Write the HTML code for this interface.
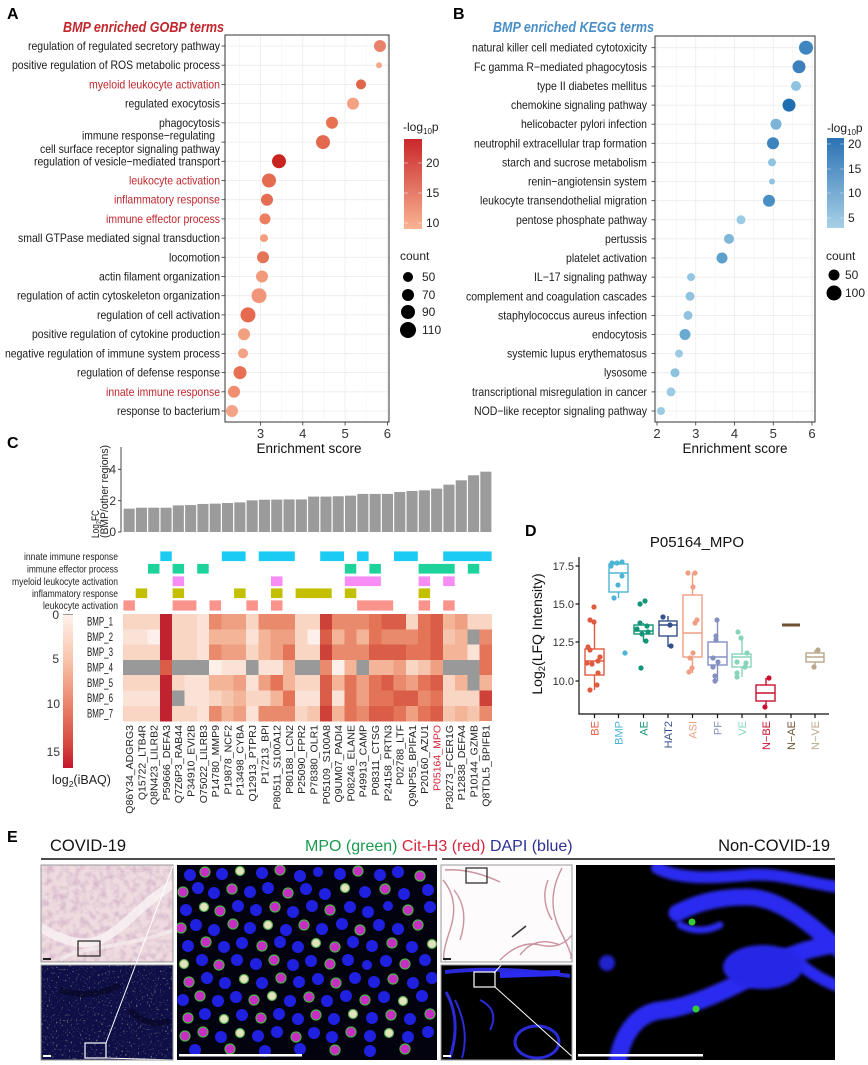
<!DOCTYPE html>
<html><head><meta charset="utf-8"><style>
html,body{margin:0;padding:0;background:#fff}
svg{display:block;font-family:"Liberation Sans",Arial,sans-serif}
.pl{font-weight:bold;font-size:16px;fill:#000}
.lab{font-size:12px;fill:#1a1a1a}
.red{fill:#c1272d}
.tk{font-size:13px;fill:#333}
.gr{stroke:#ebebeb;stroke-width:0.8}
.gm{stroke:#f4f4f4;stroke-width:0.6}
.a{fill:#fdf0ea}.b{fill:#fbe2d6}.c{fill:#f9d5c3}.d{fill:#f6c5ae}.e{fill:#f3b498}.f{fill:#efa083}.g{fill:#ea8a6c}.h{fill:#e37458}.i{fill:#d95d47}.j{fill:#cd4139}.k{fill:#c1222f}.z{fill:#999}
.cb{fill:#2020e0}.cm{fill:#c92ec4;stroke:#4fae4f;stroke-width:1.2}.cw{fill:#e4e4bc;stroke:#5a5;stroke-width:1.2}
</style></head><body>
<svg width="868" height="1065" viewBox="0 0 868 1065" xmlns="http://www.w3.org/2000/svg">
<defs>
<linearGradient id="gA" x1="0" y1="0" x2="0" y2="1"><stop offset="0" stop-color="#c9282a"/><stop offset="1" stop-color="#f9b493"/></linearGradient>
<linearGradient id="gB" x1="0" y1="0" x2="0" y2="1"><stop offset="0" stop-color="#2b72b4"/><stop offset="1" stop-color="#a7d0e6"/></linearGradient>
<linearGradient id="gC" x1="0" y1="0" x2="0" y2="1"><stop offset="0" stop-color="#fff3ee"/><stop offset="0.3" stop-color="#f8c4ab"/><stop offset="0.6" stop-color="#ea8268"/><stop offset="0.85" stop-color="#d5473e"/><stop offset="1" stop-color="#c4162c"/></linearGradient>
<filter id="tex" x="0" y="0" width="1" height="1"><feTurbulence type="fractalNoise" baseFrequency="0.15" numOctaves="2" seed="5"/><feColorMatrix type="matrix" values="0 0 0 0 0.62  0 0 0 0 0.42  0 0 0 0 0.55  1.8 0 0 0 -0.75"/></filter>
<filter id="spk" x="0" y="0" width="1" height="1"><feTurbulence type="fractalNoise" baseFrequency="0.55" numOctaves="1" seed="9"/><feColorMatrix type="matrix" values="0 0 0 0 0.85  0 0 0 0 0.9  0 0 0 0 0.5  7 0 0 0 -4.3"/></filter>
<filter id="bl"><feGaussianBlur stdDeviation="1.5"/></filter>
<clipPath id="c1"><rect x="177" y="865" width="260" height="195"/></clipPath>
<clipPath id="c2"><rect x="576" y="865" width="259" height="195"/></clipPath>
<clipPath id="c3"><rect x="441" y="965" width="131" height="95"/></clipPath>
</defs>

<!-- ============ PANEL A ============ -->
<text x="7" y="19" class="pl">A</text>
<text x="63" y="32" font-size="14.5" font-weight="bold" font-style="italic" fill="#c1272d" textLength="161" lengthAdjust="spacingAndGlyphs">BMP enriched GOBP terms</text>
<rect x="225" y="35" width="164" height="387" fill="#fff"/>
<g>
<line class="gm" x1="239.4" y1="35" x2="239.4" y2="422"/><line class="gm" x1="281.7" y1="35" x2="281.7" y2="422"/><line class="gm" x1="323.9" y1="35" x2="323.9" y2="422"/><line class="gm" x1="366.2" y1="35" x2="366.2" y2="422"/>
<line class="gr" x1="260.5" y1="35" x2="260.5" y2="422"/><line class="gr" x1="302.8" y1="35" x2="302.8" y2="422"/><line class="gr" x1="345.1" y1="35" x2="345.1" y2="422"/><line class="gr" x1="387.4" y1="35" x2="387.4" y2="422"/>
</g>
<g class="gr">
<line x1="225" x2="389" y1="46" y2="46"/><line x1="225" x2="389" y1="65.2" y2="65.2"/><line x1="225" x2="389" y1="84.4" y2="84.4"/><line x1="225" x2="389" y1="103.6" y2="103.6"/><line x1="225" x2="389" y1="122.8" y2="122.8"/><line x1="225" x2="389" y1="142.1" y2="142.1"/><line x1="225" x2="389" y1="161.3" y2="161.3"/><line x1="225" x2="389" y1="180.5" y2="180.5"/><line x1="225" x2="389" y1="199.7" y2="199.7"/><line x1="225" x2="389" y1="218.9" y2="218.9"/><line x1="225" x2="389" y1="238.1" y2="238.1"/><line x1="225" x2="389" y1="257.3" y2="257.3"/><line x1="225" x2="389" y1="276.5" y2="276.5"/><line x1="225" x2="389" y1="295.7" y2="295.7"/><line x1="225" x2="389" y1="314.9" y2="314.9"/><line x1="225" x2="389" y1="334.2" y2="334.2"/><line x1="225" x2="389" y1="353.4" y2="353.4"/><line x1="225" x2="389" y1="372.6" y2="372.6"/><line x1="225" x2="389" y1="391.8" y2="391.8"/><line x1="225" x2="389" y1="411" y2="411"/>
</g>
<g>
<circle cx="380" cy="46" r="6" fill="#e8826a"/><circle cx="379" cy="65.2" r="3" fill="#f5a88a"/><circle cx="361" cy="84.4" r="5" fill="#e0654a"/><circle cx="353" cy="103.6" r="6" fill="#f4a283"/><circle cx="332" cy="122.8" r="6" fill="#e8714f"/><circle cx="323" cy="142.1" r="7" fill="#e2684e"/><circle cx="279" cy="161.3" r="7" fill="#c82420"/><circle cx="269" cy="180.5" r="7" fill="#e46b4f"/><circle cx="267" cy="199.7" r="6" fill="#e46c51"/><circle cx="265" cy="218.9" r="5.5" fill="#eb7f60"/><circle cx="264" cy="238.1" r="4" fill="#f39c7e"/><circle cx="263" cy="257.3" r="6" fill="#e57457"/><circle cx="262" cy="276.5" r="6" fill="#f19b7c"/><circle cx="259" cy="295.7" r="7.5" fill="#f2967b"/><circle cx="248" cy="314.9" r="7.5" fill="#e56a50"/><circle cx="244" cy="334.2" r="6" fill="#f3a081"/><circle cx="243" cy="353.4" r="5" fill="#f4a285"/><circle cx="240" cy="372.6" r="6.5" fill="#e76f53"/><circle cx="234" cy="391.8" r="6" fill="#ef8e70"/><circle cx="232" cy="411" r="6" fill="#f4a386"/>
</g>
<rect x="225" y="35" width="164" height="387" fill="none" stroke="#333" stroke-width="1"/>
<g stroke="#333" stroke-width="0.8">
<line x1="221.5" x2="225" y1="46" y2="46"/><line x1="221.5" x2="225" y1="65.2" y2="65.2"/><line x1="221.5" x2="225" y1="84.4" y2="84.4"/><line x1="221.5" x2="225" y1="103.6" y2="103.6"/><line x1="221.5" x2="225" y1="122.8" y2="122.8"/><line x1="221.5" x2="225" y1="142.1" y2="142.1"/><line x1="221.5" x2="225" y1="161.3" y2="161.3"/><line x1="221.5" x2="225" y1="180.5" y2="180.5"/><line x1="221.5" x2="225" y1="199.7" y2="199.7"/><line x1="221.5" x2="225" y1="218.9" y2="218.9"/><line x1="221.5" x2="225" y1="238.1" y2="238.1"/><line x1="221.5" x2="225" y1="257.3" y2="257.3"/><line x1="221.5" x2="225" y1="276.5" y2="276.5"/><line x1="221.5" x2="225" y1="295.7" y2="295.7"/><line x1="221.5" x2="225" y1="314.9" y2="314.9"/><line x1="221.5" x2="225" y1="334.2" y2="334.2"/><line x1="221.5" x2="225" y1="353.4" y2="353.4"/><line x1="221.5" x2="225" y1="372.6" y2="372.6"/><line x1="221.5" x2="225" y1="391.8" y2="391.8"/><line x1="221.5" x2="225" y1="411" y2="411"/>
<line x1="260.5" x2="260.5" y1="422" y2="425.5"/><line x1="302.8" x2="302.8" y1="422" y2="425.5"/><line x1="345.1" x2="345.1" y1="422" y2="425.5"/><line x1="387.4" x2="387.4" y1="422" y2="425.5"/>
</g>
<g class="lab">
<text x="28" y="50" textLength="192" lengthAdjust="spacingAndGlyphs">regulation of regulated secretory pathway</text>
<text x="12" y="69.2" textLength="208" lengthAdjust="spacingAndGlyphs">positive regulation of ROS metabolic process</text>
<text x="89" y="88.4" textLength="131" lengthAdjust="spacingAndGlyphs" class="red">myeloid leukocyte activation</text>
<text x="125" y="107.6" textLength="95" lengthAdjust="spacingAndGlyphs">regulated exocytosis</text>
<text x="159" y="126.8" textLength="61" lengthAdjust="spacingAndGlyphs">phagocytosis</text>
<text x="82" y="139.7" textLength="133" lengthAdjust="spacingAndGlyphs">immune response−regulating</text>
<text x="40" y="153" textLength="180" lengthAdjust="spacingAndGlyphs">cell surface receptor signaling pathway</text>
<text x="34" y="165.3" textLength="186" lengthAdjust="spacingAndGlyphs">regulation of vesicle−mediated transport</text>
<text x="129" y="184.5" textLength="91" lengthAdjust="spacingAndGlyphs" class="red">leukocyte activation</text>
<text x="114" y="203.7" textLength="106" lengthAdjust="spacingAndGlyphs" class="red">inflammatory response</text>
<text x="106" y="222.9" textLength="114" lengthAdjust="spacingAndGlyphs" class="red">immune effector process</text>
<text x="18" y="242.1" textLength="202" lengthAdjust="spacingAndGlyphs">small GTPase mediated signal transduction</text>
<text x="169" y="261.3" textLength="51" lengthAdjust="spacingAndGlyphs">locomotion</text>
<text x="99" y="280.5" textLength="121" lengthAdjust="spacingAndGlyphs">actin filament organization</text>
<text x="17" y="299.7" textLength="203" lengthAdjust="spacingAndGlyphs">regulation of actin cytoskeleton organization</text>
<text x="97" y="318.9" textLength="123" lengthAdjust="spacingAndGlyphs">regulation of cell activation</text>
<text x="32" y="338.2" textLength="188" lengthAdjust="spacingAndGlyphs">positive regulation of cytokine production</text>
<text x="5" y="357.4" textLength="215" lengthAdjust="spacingAndGlyphs">negative regulation of immune system process</text>
<text x="77" y="376.6" textLength="143" lengthAdjust="spacingAndGlyphs">regulation of defense response</text>
<text x="106" y="395.8" textLength="114" lengthAdjust="spacingAndGlyphs" class="red">innate immune response</text>
<text x="117" y="415" textLength="103" lengthAdjust="spacingAndGlyphs">response to bacterium</text>
</g>
<g class="tk" text-anchor="middle">
<text x="260.5" y="438">3</text><text x="302.8" y="438">4</text><text x="345.1" y="438">5</text><text x="387.4" y="438">6</text>
<text x="309" y="453" font-size="13.5" fill="#111">Enrichment score</text>
</g>
<text x="403" y="131" font-size="12" fill="#222">-log<tspan font-size="8" dy="3">10</tspan><tspan dy="-3">p</tspan></text>
<rect x="404" y="139" width="18" height="90" fill="url(#gA)"/>
<g stroke="#fff" stroke-opacity="0.6" stroke-width="0.8"><line x1="404" x2="408" y1="163" y2="163"/><line x1="418" x2="422" y1="163" y2="163"/><line x1="404" x2="408" y1="193" y2="193"/><line x1="418" x2="422" y1="193" y2="193"/><line x1="404" x2="408" y1="223" y2="223"/><line x1="418" x2="422" y1="223" y2="223"/></g>
<g font-size="12" fill="#222"><text x="426" y="167">20</text><text x="426" y="197">15</text><text x="426" y="227">10</text>
<text x="400" y="260">count</text>
<circle cx="408" cy="277" r="5" fill="#000"/><text x="422" y="281">50</text>
<circle cx="408" cy="295" r="6" fill="#000"/><text x="422" y="299">70</text>
<circle cx="408" cy="312" r="7" fill="#000"/><text x="422" y="316">90</text>
<circle cx="408" cy="330" r="8" fill="#000"/><text x="422" y="334">110</text></g>

<!-- ============ PANEL B ============ -->
<text x="453" y="19" class="pl">B</text>
<text x="493" y="32" font-size="14.5" font-weight="bold" font-style="italic" fill="#4a8ec7" textLength="161" lengthAdjust="spacingAndGlyphs">BMP enriched KEGG terms</text>
<g>
<line class="gm" x1="676.4" y1="36" x2="676.4" y2="422"/><line class="gm" x1="715.1" y1="36" x2="715.1" y2="422"/><line class="gm" x1="753.9" y1="36" x2="753.9" y2="422"/><line class="gm" x1="792.6" y1="36" x2="792.6" y2="422"/>
<line class="gr" x1="657" y1="36" x2="657" y2="422"/><line class="gr" x1="695.75" y1="36" x2="695.75" y2="422"/><line class="gr" x1="734.5" y1="36" x2="734.5" y2="422"/><line class="gr" x1="773.25" y1="36" x2="773.25" y2="422"/><line class="gr" x1="812" y1="36" x2="812" y2="422"/>
</g>
<g class="gr">
<line x1="655" x2="815" y1="47.7" y2="47.7"/><line x1="655" x2="815" y1="66.8" y2="66.8"/><line x1="655" x2="815" y1="86" y2="86"/><line x1="655" x2="815" y1="105.1" y2="105.1"/><line x1="655" x2="815" y1="124.2" y2="124.2"/><line x1="655" x2="815" y1="143.3" y2="143.3"/><line x1="655" x2="815" y1="162.4" y2="162.4"/><line x1="655" x2="815" y1="181.5" y2="181.5"/><line x1="655" x2="815" y1="200.7" y2="200.7"/><line x1="655" x2="815" y1="219.8" y2="219.8"/><line x1="655" x2="815" y1="238.9" y2="238.9"/><line x1="655" x2="815" y1="258" y2="258"/><line x1="655" x2="815" y1="277.1" y2="277.1"/><line x1="655" x2="815" y1="296.3" y2="296.3"/><line x1="655" x2="815" y1="315.4" y2="315.4"/><line x1="655" x2="815" y1="334.5" y2="334.5"/><line x1="655" x2="815" y1="353.6" y2="353.6"/><line x1="655" x2="815" y1="372.7" y2="372.7"/><line x1="655" x2="815" y1="391.9" y2="391.9"/><line x1="655" x2="815" y1="411" y2="411"/>
</g>
<g>
<circle cx="806" cy="47.7" r="7" fill="#3f86c0"/><circle cx="799" cy="66.8" r="6.5" fill="#3b80bd"/><circle cx="796" cy="86" r="5" fill="#8fc3df"/><circle cx="789" cy="105.1" r="6.5" fill="#1f6eb1"/><circle cx="776" cy="124.2" r="5.5" fill="#7cb3d7"/><circle cx="773" cy="143.3" r="6" fill="#3d84be"/><circle cx="772" cy="162.4" r="4" fill="#8fc3df"/><circle cx="772" cy="181.5" r="3" fill="#8fc3df"/><circle cx="769" cy="200.7" r="6" fill="#4a8ec4"/><circle cx="741" cy="219.8" r="4.5" fill="#9ccbe3"/><circle cx="729" cy="238.9" r="5" fill="#7fb7d8"/><circle cx="722" cy="258" r="5.5" fill="#5e9fcc"/><circle cx="691" cy="277.1" r="4" fill="#93c6e0"/><circle cx="690" cy="296.3" r="4.5" fill="#8fc3df"/><circle cx="688" cy="315.4" r="4.5" fill="#8fc3df"/><circle cx="685" cy="334.5" r="5.5" fill="#6aa9d1"/><circle cx="679" cy="353.6" r="4" fill="#9ccbe3"/><circle cx="675" cy="372.7" r="4.5" fill="#8ec2df"/><circle cx="671" cy="391.9" r="4.5" fill="#9ccbe3"/><circle cx="661" cy="411" r="4" fill="#9ccbe3"/>
</g>
<rect x="655" y="36" width="160" height="386" fill="none" stroke="#333" stroke-width="1"/>
<g stroke="#333" stroke-width="0.8">
<line x1="651.5" x2="655" y1="47.7" y2="47.7"/><line x1="651.5" x2="655" y1="66.8" y2="66.8"/><line x1="651.5" x2="655" y1="86" y2="86"/><line x1="651.5" x2="655" y1="105.1" y2="105.1"/><line x1="651.5" x2="655" y1="124.2" y2="124.2"/><line x1="651.5" x2="655" y1="143.3" y2="143.3"/><line x1="651.5" x2="655" y1="162.4" y2="162.4"/><line x1="651.5" x2="655" y1="181.5" y2="181.5"/><line x1="651.5" x2="655" y1="200.7" y2="200.7"/><line x1="651.5" x2="655" y1="219.8" y2="219.8"/><line x1="651.5" x2="655" y1="238.9" y2="238.9"/><line x1="651.5" x2="655" y1="258" y2="258"/><line x1="651.5" x2="655" y1="277.1" y2="277.1"/><line x1="651.5" x2="655" y1="296.3" y2="296.3"/><line x1="651.5" x2="655" y1="315.4" y2="315.4"/><line x1="651.5" x2="655" y1="334.5" y2="334.5"/><line x1="651.5" x2="655" y1="353.6" y2="353.6"/><line x1="651.5" x2="655" y1="372.7" y2="372.7"/><line x1="651.5" x2="655" y1="391.9" y2="391.9"/><line x1="651.5" x2="655" y1="411" y2="411"/>
<line x1="657" x2="657" y1="422" y2="425.5"/><line x1="695.75" x2="695.75" y1="422" y2="425.5"/><line x1="734.5" x2="734.5" y1="422" y2="425.5"/><line x1="773.25" x2="773.25" y1="422" y2="425.5"/><line x1="812" x2="812" y1="422" y2="425.5"/>
</g>
<g class="lab">
<text x="472" y="51.7" textLength="175" lengthAdjust="spacingAndGlyphs">natural killer cell mediated cytotoxicity</text>
<text x="474" y="70.8" textLength="173" lengthAdjust="spacingAndGlyphs">Fc gamma R−mediated phagocytosis</text>
<text x="537" y="90" textLength="110" lengthAdjust="spacingAndGlyphs">type II diabetes mellitus</text>
<text x="511" y="109.1" textLength="136" lengthAdjust="spacingAndGlyphs">chemokine signaling pathway</text>
<text x="521" y="128.2" textLength="126" lengthAdjust="spacingAndGlyphs">helicobacter pylori infection</text>
<text x="474" y="147.3" textLength="173" lengthAdjust="spacingAndGlyphs">neutrophil extracellular trap formation</text>
<text x="502" y="166.4" textLength="145" lengthAdjust="spacingAndGlyphs">starch and sucrose metabolism</text>
<text x="528" y="185.5" textLength="119" lengthAdjust="spacingAndGlyphs">renin−angiotensin system</text>
<text x="480" y="204.7" textLength="167" lengthAdjust="spacingAndGlyphs">leukocyte transendothelial migration</text>
<text x="516" y="223.8" textLength="131" lengthAdjust="spacingAndGlyphs">pentose phosphate pathway</text>
<text x="605" y="242.9" textLength="42" lengthAdjust="spacingAndGlyphs">pertussis</text>
<text x="566" y="262" textLength="81" lengthAdjust="spacingAndGlyphs">platelet activation</text>
<text x="534" y="281.1" textLength="113" lengthAdjust="spacingAndGlyphs">IL−17 signaling pathway</text>
<text x="466" y="300.3" textLength="181" lengthAdjust="spacingAndGlyphs">complement and coagulation cascades</text>
<text x="498" y="319.4" textLength="149" lengthAdjust="spacingAndGlyphs">staphylococcus aureus infection</text>
<text x="592" y="338.5" textLength="55" lengthAdjust="spacingAndGlyphs">endocytosis</text>
<text x="507" y="357.6" textLength="140" lengthAdjust="spacingAndGlyphs">systemic lupus erythematosus</text>
<text x="604" y="376.7" textLength="43" lengthAdjust="spacingAndGlyphs">lysosome</text>
<text x="472" y="395.9" textLength="175" lengthAdjust="spacingAndGlyphs">transcriptional misregulation in cancer</text>
<text x="474" y="415" textLength="173" lengthAdjust="spacingAndGlyphs">NOD−like receptor signaling pathway</text>
</g>
<g class="tk" text-anchor="middle">
<text x="657" y="438">2</text><text x="695.75" y="438">3</text><text x="734.5" y="438">4</text><text x="773.25" y="438">5</text><text x="812" y="438">6</text>
<text x="735" y="453" font-size="13.5" fill="#111">Enrichment score</text>
</g>
<text x="827" y="132" font-size="12" fill="#222">-log<tspan font-size="8" dy="3">10</tspan><tspan dy="-3">p</tspan></text>
<rect x="827" y="138" width="17" height="90" fill="url(#gB)"/>
<g stroke="#fff" stroke-opacity="0.5" stroke-width="0.8"><line x1="827" x2="831" y1="144" y2="144"/><line x1="840" x2="844" y1="144" y2="144"/><line x1="827" x2="831" y1="169" y2="169"/><line x1="840" x2="844" y1="169" y2="169"/><line x1="827" x2="831" y1="193" y2="193"/><line x1="840" x2="844" y1="193" y2="193"/><line x1="827" x2="831" y1="218" y2="218"/><line x1="840" x2="844" y1="218" y2="218"/></g>
<g font-size="12" fill="#222"><text x="848" y="148">20</text><text x="848" y="173">15</text><text x="848" y="197">10</text><text x="848" y="222">5</text>
<text x="826" y="260">count</text>
<circle cx="834" cy="275" r="5.5" fill="#000"/><text x="845" y="279">50</text>
<circle cx="834" cy="293" r="7.5" fill="#000"/><text x="845" y="297">100</text></g>

<!-- ============ PANEL C ============ -->
<text x="7" y="448" class="pl">C</text>
<line x1="121" y1="447" x2="121" y2="532" stroke="#333" stroke-width="0.9"/>
<g stroke="#333" stroke-width="0.9"><line x1="118" x2="121" y1="532" y2="532"/><line x1="118" x2="121" y1="500.7" y2="500.7"/><line x1="118" x2="121" y1="469.3" y2="469.3"/></g>
<g font-size="12" fill="#333" text-anchor="end"><text x="116" y="473.5">4</text><text x="116" y="505">2</text><text x="116" y="536">0</text></g>
<text transform="translate(99 538) rotate(-90)" font-size="11" fill="#222" textLength="28" lengthAdjust="spacingAndGlyphs">Log<tspan font-size="7.5" dy="2">2</tspan><tspan dy="-2">FC</tspan></text>
<text transform="translate(108 538) rotate(-90)" font-size="11" fill="#222" textLength="93" lengthAdjust="spacingAndGlyphs">(BMP/other regions)</text>
<g transform="translate(123 532) scale(12.3 -15.67)" fill="#9b9b9b">
<rect x="0.05" y="0" width="0.9" height="1.49"/><rect x="1.05" y="0" width="0.9" height="1.55"/><rect x="2.05" y="0" width="0.9" height="1.55"/><rect x="3.05" y="0" width="0.9" height="1.55"/><rect x="4.05" y="0" width="0.9" height="1.70"/><rect x="5.05" y="0" width="0.9" height="1.72"/><rect x="6.05" y="0" width="0.9" height="1.79"/><rect x="7.05" y="0" width="0.9" height="1.81"/><rect x="8.05" y="0" width="0.9" height="1.85"/><rect x="9.05" y="0" width="0.9" height="1.89"/><rect x="10.05" y="0" width="0.9" height="2.02"/><rect x="11.05" y="0" width="0.9" height="2.06"/><rect x="12.05" y="0" width="0.9" height="2.07"/><rect x="13.05" y="0" width="0.9" height="2.08"/><rect x="14.05" y="0" width="0.9" height="2.08"/><rect x="15.05" y="0" width="0.9" height="2.26"/><rect x="16.05" y="0" width="0.9" height="2.26"/><rect x="17.05" y="0" width="0.9" height="2.28"/><rect x="18.05" y="0" width="0.9" height="2.32"/><rect x="19.05" y="0" width="0.9" height="2.43"/><rect x="20.05" y="0" width="0.9" height="2.43"/><rect x="21.05" y="0" width="0.9" height="2.43"/><rect x="22.05" y="0" width="0.9" height="2.55"/><rect x="23.05" y="0" width="0.9" height="2.62"/><rect x="24.05" y="0" width="0.9" height="2.66"/><rect x="25.05" y="0" width="0.9" height="2.77"/><rect x="26.05" y="0" width="0.9" height="3.02"/><rect x="27.05" y="0" width="0.9" height="3.30"/><rect x="28.05" y="0" width="0.9" height="3.62"/><rect x="29.05" y="0" width="0.9" height="3.85"/>
</g>
<g font-size="10.5" fill="#222">
<text x="24" y="560" textLength="94" lengthAdjust="spacingAndGlyphs">innate immune response</text>
<text x="27" y="572.5" textLength="91" lengthAdjust="spacingAndGlyphs">immune effector process</text>
<text x="12" y="585" textLength="106" lengthAdjust="spacingAndGlyphs">myeloid leukocyte activation</text>
<text x="32" y="597" textLength="86" lengthAdjust="spacingAndGlyphs">inflammatory response</text>
<text x="43" y="609" textLength="75" lengthAdjust="spacingAndGlyphs">leukocyte activation</text>
</g>
<g stroke="#fff" stroke-width="0.8">
<g fill="#1ccbf2"><rect x="159.9" y="551" width="12.3" height="10.5"/><rect x="221.4" y="551" width="24.6" height="10.5"/><rect x="258.3" y="551" width="36.9" height="10.5"/><rect x="319.8" y="551" width="24.6" height="10.5"/><rect x="356.7" y="551" width="12.3" height="10.5"/><rect x="393.6" y="551" width="24.6" height="10.5"/><rect x="442.8" y="551" width="49.2" height="10.5"/></g>
<g fill="#1dd39b"><rect x="147.6" y="563.5" width="12.3" height="10.5"/><rect x="172.2" y="563.5" width="12.3" height="10.5"/><rect x="196.8" y="563.5" width="12.3" height="10.5"/><rect x="344.4" y="563.5" width="12.3" height="10.5"/><rect x="369" y="563.5" width="12.3" height="10.5"/><rect x="418.2" y="563.5" width="36.9" height="10.5"/><rect x="467.4" y="563.5" width="12.3" height="10.5"/></g>
<g fill="#f78cf4"><rect x="172.2" y="576" width="12.3" height="10.5"/><rect x="270.6" y="576" width="12.3" height="10.5"/><rect x="344.4" y="576" width="36.9" height="10.5"/><rect x="418.2" y="576" width="12.3" height="10.5"/><rect x="442.8" y="576" width="12.3" height="10.5"/></g>
<g fill="#c2c000"><rect x="135.3" y="588" width="12.3" height="10.5"/><rect x="172.2" y="588" width="12.3" height="10.5"/><rect x="233.7" y="588" width="12.3" height="10.5"/><rect x="270.6" y="588" width="12.3" height="10.5"/><rect x="295.2" y="588" width="36.9" height="10.5"/><rect x="344.4" y="588" width="12.3" height="10.5"/><rect x="418.2" y="588" width="12.3" height="10.5"/></g>
<g fill="#f9938b"><rect x="123" y="600" width="12.3" height="11"/><rect x="172.2" y="600" width="24.6" height="11"/><rect x="209.1" y="600" width="12.3" height="11"/><rect x="246" y="600" width="12.3" height="11"/><rect x="270.6" y="600" width="12.3" height="11"/><rect x="356.7" y="600" width="36.9" height="11"/><rect x="418.2" y="600" width="12.3" height="11"/><rect x="442.8" y="600" width="12.3" height="11"/></g>
</g>
<g transform="translate(123 614) scale(12.3 15.3)" shape-rendering="crispEdges">
<g transform="translate(0 0)"><rect y="0" width="1.03" height="1.03" class="c"/><rect y="1" width="1.03" height="1.03" class="b"/><rect y="2" width="1.03" height="1.03" class="c"/><rect y="3" width="1.03" height="1.03" class="z"/><rect y="4" width="1.03" height="1.03" class="c"/><rect y="5" width="1.03" height="1.03" class="b"/><rect y="6" width="1.03" height="1.03" class="c"/></g>
<g transform="translate(1 0)"><rect y="0" width="1.03" height="1.03" class="c"/><rect y="1" width="1.03" height="1.03" class="b"/><rect y="2" width="1.03" height="1.03" class="c"/><rect y="3" width="1.03" height="1.03" class="z"/><rect y="4" width="1.03" height="1.03" class="c"/><rect y="5" width="1.03" height="1.03" class="b"/><rect y="6" width="1.03" height="1.03" class="c"/></g>
<g transform="translate(2 0)"><rect y="0" width="1.03" height="1.03" class="c"/><rect y="1" width="1.03" height="1.03" class="a"/><rect y="2" width="1.03" height="1.03" class="c"/><rect y="3" width="1.03" height="1.03" class="z"/><rect y="4" width="1.03" height="1.03" class="c"/><rect y="5" width="1.03" height="1.03" class="b"/><rect y="6" width="1.03" height="1.03" class="c"/></g>
<g transform="translate(3 0)"><rect y="0" width="1.03" height="1.03" class="k"/><rect y="1" width="1.03" height="1.03" class="k"/><rect y="2" width="1.03" height="1.03" class="k"/><rect y="3" width="1.03" height="1.03" class="i"/><rect y="4" width="1.03" height="1.03" class="k"/><rect y="5" width="1.03" height="1.03" class="k"/><rect y="6" width="1.03" height="1.03" class="k"/></g>
<g transform="translate(4 0)"><rect y="0" width="1.03" height="1.03" class="c"/><rect y="1" width="1.03" height="1.03" class="c"/><rect y="2" width="1.03" height="1.03" class="c"/><rect y="3" width="1.03" height="1.03" class="z"/><rect y="4" width="1.03" height="1.03" class="c"/><rect y="5" width="1.03" height="1.03" class="z"/><rect y="6" width="1.03" height="1.03" class="c"/></g>
<g transform="translate(5 0)"><rect y="0" width="1.03" height="1.03" class="c"/><rect y="1" width="1.03" height="1.03" class="c"/><rect y="2" width="1.03" height="1.03" class="c"/><rect y="3" width="1.03" height="1.03" class="z"/><rect y="4" width="1.03" height="1.03" class="b"/><rect y="5" width="1.03" height="1.03" class="b"/><rect y="6" width="1.03" height="1.03" class="c"/></g>
<g transform="translate(6 0)"><rect y="0" width="1.03" height="1.03" class="b"/><rect y="1" width="1.03" height="1.03" class="b"/><rect y="2" width="1.03" height="1.03" class="b"/><rect y="3" width="1.03" height="1.03" class="z"/><rect y="4" width="1.03" height="1.03" class="b"/><rect y="5" width="1.03" height="1.03" class="b"/><rect y="6" width="1.03" height="1.03" class="b"/></g>
<g transform="translate(7 0)"><rect y="0" width="1.03" height="1.03" class="g"/><rect y="1" width="1.03" height="1.03" class="e"/><rect y="2" width="1.03" height="1.03" class="g"/><rect y="3" width="1.03" height="1.03" class="a"/><rect y="4" width="1.03" height="1.03" class="e"/><rect y="5" width="1.03" height="1.03" class="c"/><rect y="6" width="1.03" height="1.03" class="g"/></g>
<g transform="translate(8 0)"><rect y="0" width="1.03" height="1.03" class="f"/><rect y="1" width="1.03" height="1.03" class="e"/><rect y="2" width="1.03" height="1.03" class="f"/><rect y="3" width="1.03" height="1.03" class="b"/><rect y="4" width="1.03" height="1.03" class="e"/><rect y="5" width="1.03" height="1.03" class="d"/><rect y="6" width="1.03" height="1.03" class="e"/></g>
<g transform="translate(9 0)"><rect y="0" width="1.03" height="1.03" class="f"/><rect y="1" width="1.03" height="1.03" class="e"/><rect y="2" width="1.03" height="1.03" class="f"/><rect y="3" width="1.03" height="1.03" class="b"/><rect y="4" width="1.03" height="1.03" class="f"/><rect y="5" width="1.03" height="1.03" class="e"/><rect y="6" width="1.03" height="1.03" class="f"/></g>
<g transform="translate(10 0)"><rect y="0" width="1.03" height="1.03" class="c"/><rect y="1" width="1.03" height="1.03" class="b"/><rect y="2" width="1.03" height="1.03" class="c"/><rect y="3" width="1.03" height="1.03" class="z"/><rect y="4" width="1.03" height="1.03" class="b"/><rect y="5" width="1.03" height="1.03" class="c"/><rect y="6" width="1.03" height="1.03" class="b"/></g>
<g transform="translate(11 0)"><rect y="0" width="1.03" height="1.03" class="g"/><rect y="1" width="1.03" height="1.03" class="e"/><rect y="2" width="1.03" height="1.03" class="e"/><rect y="3" width="1.03" height="1.03" class="b"/><rect y="4" width="1.03" height="1.03" class="f"/><rect y="5" width="1.03" height="1.03" class="c"/><rect y="6" width="1.03" height="1.03" class="g"/></g>
<g transform="translate(12 0)"><rect y="0" width="1.03" height="1.03" class="g"/><rect y="1" width="1.03" height="1.03" class="f"/><rect y="2" width="1.03" height="1.03" class="f"/><rect y="3" width="1.03" height="1.03" class="b"/><rect y="4" width="1.03" height="1.03" class="h"/><rect y="5" width="1.03" height="1.03" class="e"/><rect y="6" width="1.03" height="1.03" class="g"/></g>
<g transform="translate(13 0)"><rect y="0" width="1.03" height="1.03" class="g"/><rect y="1" width="1.03" height="1.03" class="f"/><rect y="2" width="1.03" height="1.03" class="h"/><rect y="3" width="1.03" height="1.03" class="e"/><rect y="4" width="1.03" height="1.03" class="e"/><rect y="5" width="1.03" height="1.03" class="h"/><rect y="6" width="1.03" height="1.03" class="g"/></g>
<g transform="translate(14 0)"><rect y="0" width="1.03" height="1.03" class="c"/><rect y="1" width="1.03" height="1.03" class="c"/><rect y="2" width="1.03" height="1.03" class="c"/><rect y="3" width="1.03" height="1.03" class="z"/><rect y="4" width="1.03" height="1.03" class="c"/><rect y="5" width="1.03" height="1.03" class="b"/><rect y="6" width="1.03" height="1.03" class="c"/></g>
<g transform="translate(15 0)"><rect y="0" width="1.03" height="1.03" class="c"/><rect y="1" width="1.03" height="1.03" class="a"/><rect y="2" width="1.03" height="1.03" class="c"/><rect y="3" width="1.03" height="1.03" class="z"/><rect y="4" width="1.03" height="1.03" class="c"/><rect y="5" width="1.03" height="1.03" class="b"/><rect y="6" width="1.03" height="1.03" class="d"/></g>
<g transform="translate(16 0)"><rect y="0" width="1.03" height="1.03" class="j"/><rect y="1" width="1.03" height="1.03" class="i"/><rect y="2" width="1.03" height="1.03" class="j"/><rect y="3" width="1.03" height="1.03" class="g"/><rect y="4" width="1.03" height="1.03" class="i"/><rect y="5" width="1.03" height="1.03" class="i"/><rect y="6" width="1.03" height="1.03" class="j"/></g>
<g transform="translate(17 0)"><rect y="0" width="1.03" height="1.03" class="g"/><rect y="1" width="1.03" height="1.03" class="e"/><rect y="2" width="1.03" height="1.03" class="g"/><rect y="3" width="1.03" height="1.03" class="a"/><rect y="4" width="1.03" height="1.03" class="e"/><rect y="5" width="1.03" height="1.03" class="b"/><rect y="6" width="1.03" height="1.03" class="e"/></g>
<g transform="translate(18 0)"><rect y="0" width="1.03" height="1.03" class="g"/><rect y="1" width="1.03" height="1.03" class="g"/><rect y="2" width="1.03" height="1.03" class="g"/><rect y="3" width="1.03" height="1.03" class="e"/><rect y="4" width="1.03" height="1.03" class="h"/><rect y="5" width="1.03" height="1.03" class="h"/><rect y="6" width="1.03" height="1.03" class="h"/></g>
<g transform="translate(19 0)"><rect y="0" width="1.03" height="1.03" class="g"/><rect y="1" width="1.03" height="1.03" class="e"/><rect y="2" width="1.03" height="1.03" class="g"/><rect y="3" width="1.03" height="1.03" class="z"/><rect y="4" width="1.03" height="1.03" class="f"/><rect y="5" width="1.03" height="1.03" class="f"/><rect y="6" width="1.03" height="1.03" class="g"/></g>
<g transform="translate(20 0)"><rect y="0" width="1.03" height="1.03" class="h"/><rect y="1" width="1.03" height="1.03" class="h"/><rect y="2" width="1.03" height="1.03" class="i"/><rect y="3" width="1.03" height="1.03" class="e"/><rect y="4" width="1.03" height="1.03" class="h"/><rect y="5" width="1.03" height="1.03" class="h"/><rect y="6" width="1.03" height="1.03" class="i"/></g>
<g transform="translate(21 0)"><rect y="0" width="1.03" height="1.03" class="i"/><rect y="1" width="1.03" height="1.03" class="g"/><rect y="2" width="1.03" height="1.03" class="i"/><rect y="3" width="1.03" height="1.03" class="e"/><rect y="4" width="1.03" height="1.03" class="i"/><rect y="5" width="1.03" height="1.03" class="h"/><rect y="6" width="1.03" height="1.03" class="i"/></g>
<g transform="translate(22 0)"><rect y="0" width="1.03" height="1.03" class="i"/><rect y="1" width="1.03" height="1.03" class="g"/><rect y="2" width="1.03" height="1.03" class="i"/><rect y="3" width="1.03" height="1.03" class="f"/><rect y="4" width="1.03" height="1.03" class="g"/><rect y="5" width="1.03" height="1.03" class="i"/><rect y="6" width="1.03" height="1.03" class="h"/></g>
<g transform="translate(23 0)"><rect y="0" width="1.03" height="1.03" class="c"/><rect y="1" width="1.03" height="1.03" class="g"/><rect y="2" width="1.03" height="1.03" class="h"/><rect y="3" width="1.03" height="1.03" class="c"/><rect y="4" width="1.03" height="1.03" class="f"/><rect y="5" width="1.03" height="1.03" class="i"/><rect y="6" width="1.03" height="1.03" class="f"/></g>
<g transform="translate(24 0)"><rect y="0" width="1.03" height="1.03" class="h"/><rect y="1" width="1.03" height="1.03" class="h"/><rect y="2" width="1.03" height="1.03" class="h"/><rect y="3" width="1.03" height="1.03" class="d"/><rect y="4" width="1.03" height="1.03" class="h"/><rect y="5" width="1.03" height="1.03" class="g"/><rect y="6" width="1.03" height="1.03" class="h"/></g>
<g transform="translate(25 0)"><rect y="0" width="1.03" height="1.03" class="i"/><rect y="1" width="1.03" height="1.03" class="i"/><rect y="2" width="1.03" height="1.03" class="i"/><rect y="3" width="1.03" height="1.03" class="f"/><rect y="4" width="1.03" height="1.03" class="i"/><rect y="5" width="1.03" height="1.03" class="h"/><rect y="6" width="1.03" height="1.03" class="i"/></g>
<g transform="translate(26 0)"><rect y="0" width="1.03" height="1.03" class="e"/><rect y="1" width="1.03" height="1.03" class="d"/><rect y="2" width="1.03" height="1.03" class="e"/><rect y="3" width="1.03" height="1.03" class="z"/><rect y="4" width="1.03" height="1.03" class="c"/><rect y="5" width="1.03" height="1.03" class="c"/><rect y="6" width="1.03" height="1.03" class="d"/></g>
<g transform="translate(27 0)"><rect y="0" width="1.03" height="1.03" class="f"/><rect y="1" width="1.03" height="1.03" class="e"/><rect y="2" width="1.03" height="1.03" class="e"/><rect y="3" width="1.03" height="1.03" class="z"/><rect y="4" width="1.03" height="1.03" class="e"/><rect y="5" width="1.03" height="1.03" class="c"/><rect y="6" width="1.03" height="1.03" class="e"/></g>
<g transform="translate(28 0)"><rect y="0" width="1.03" height="1.03" class="c"/><rect y="1" width="1.03" height="1.03" class="z"/><rect y="2" width="1.03" height="1.03" class="b"/><rect y="3" width="1.03" height="1.03" class="z"/><rect y="4" width="1.03" height="1.03" class="z"/><rect y="5" width="1.03" height="1.03" class="c"/><rect y="6" width="1.03" height="1.03" class="d"/></g>
<g transform="translate(29 0)"><rect y="0" width="1" height="1.03" class="c"/><rect y="1" width="1" height="1.03" class="g"/><rect y="2" width="1" height="1.03" class="h"/><rect y="3" width="1" height="1.03" class="h"/><rect y="4" width="1" height="1.03" class="e"/><rect y="5" width="1" height="1.03" class="j"/><rect y="6" width="1" height="1" class="g"/></g>
</g>
<g font-size="12" fill="#1a1a1a">
<text x="87" y="625.6" textLength="26" lengthAdjust="spacingAndGlyphs">BMP_1</text>
<text x="87" y="640.9" textLength="26" lengthAdjust="spacingAndGlyphs">BMP_2</text>
<text x="87" y="656.2" textLength="26" lengthAdjust="spacingAndGlyphs">BMP_3</text>
<text x="87" y="671.5" textLength="26" lengthAdjust="spacingAndGlyphs">BMP_4</text>
<text x="87" y="686.8" textLength="26" lengthAdjust="spacingAndGlyphs">BMP_5</text>
<text x="87" y="702.1" textLength="26" lengthAdjust="spacingAndGlyphs">BMP_6</text>
<text x="87" y="717.4" textLength="26" lengthAdjust="spacingAndGlyphs">BMP_7</text>
</g>
<rect x="63" y="614" width="10" height="154" fill="url(#gC)"/>
<line x1="63" x2="73" y1="614.5" y2="614.5" stroke="#999" stroke-width="1"/>
<g font-size="12" fill="#333" text-anchor="end"><text x="59" y="619">0</text><text x="59" y="663">5</text><text x="60" y="708">10</text><text x="60" y="756">15</text></g>
<text x="52" y="784" font-size="12.5" fill="#222">log<tspan font-size="8.5" dy="3">2</tspan><tspan dy="-3">(iBAQ)</tspan></text>
<g font-size="10.5" fill="#222" text-anchor="end">
<text transform="translate(133 725) rotate(-90)">Q86Y34_ADGRG3</text>
<text transform="translate(145.3 725) rotate(-90)">Q15722_LTB4R</text>
<text transform="translate(157.6 725) rotate(-90)">Q8N423_LILRB2</text>
<text transform="translate(169.9 725) rotate(-90)">P59666_DEFA3</text>
<text transform="translate(182.2 725) rotate(-90)">Q7Z6P3_RAB44</text>
<text transform="translate(194.5 725) rotate(-90)">P34910_EVI2B</text>
<text transform="translate(206.8 725) rotate(-90)">O75022_LILRB3</text>
<text transform="translate(219.1 725) rotate(-90)">P14780_MMP9</text>
<text transform="translate(231.4 725) rotate(-90)">P19878_NCF2</text>
<text transform="translate(243.7 725) rotate(-90)">P13498_CYBA</text>
<text transform="translate(256 725) rotate(-90)">Q12913_PTPRJ</text>
<text transform="translate(268.3 725) rotate(-90)">P17213_BPI</text>
<text transform="translate(280.6 725) rotate(-90)">P80511_S100A12</text>
<text transform="translate(292.9 725) rotate(-90)">P80188_LCN2</text>
<text transform="translate(305.2 725) rotate(-90)">P25090_FPR2</text>
<text transform="translate(317.5 725) rotate(-90)">P78380_OLR1</text>
<text transform="translate(329.8 725) rotate(-90)">P05109_S100A8</text>
<text transform="translate(342.1 725) rotate(-90)">Q9UM07_PADI4</text>
<text transform="translate(354.4 725) rotate(-90)">P08246_ELANE</text>
<text transform="translate(366.7 725) rotate(-90)">P49913_CAMP</text>
<text transform="translate(379 725) rotate(-90)">P08311_CTSG</text>
<text transform="translate(391.3 725) rotate(-90)">P24158_PRTN3</text>
<text transform="translate(403.6 725) rotate(-90)">P02788_LTF</text>
<text transform="translate(415.9 725) rotate(-90)">Q9NP55_BPIFA1</text>
<text transform="translate(428.2 725) rotate(-90)">P20160_AZU1</text>
<text transform="translate(440.5 725) rotate(-90)" fill="#d7263d">P05164_MPO</text>
<text transform="translate(452.8 725) rotate(-90)">P30273_FCER1G</text>
<text transform="translate(465.1 725) rotate(-90)">P12838_DEFA4</text>
<text transform="translate(477.4 725) rotate(-90)">P10144_GZMB</text>
<text transform="translate(489.7 725) rotate(-90)">Q8TDL5_BPIFB1</text>
</g>

<!-- ============ PANEL D ============ -->
<text x="525" y="536" class="pl">D</text>
<text x="697" y="547" font-size="15" fill="#111" text-anchor="middle">P05164_MPO</text>
<text transform="translate(542 634) rotate(-90)" font-size="14" fill="#111" text-anchor="middle">Log<tspan font-size="9.5" dy="3">2</tspan><tspan dy="-3">(LFQ Intensity)</tspan></text>
<g font-size="11" fill="#333" text-anchor="end"><text x="574" y="570">17.5</text><text x="574" y="608">15.0</text><text x="574" y="646">12.5</text><text x="574" y="685">10.0</text></g>
<g stroke="#111" stroke-width="1.2">
<line x1="579" y1="557" x2="579" y2="714.5"/><line x1="578.4" y1="714" x2="829" y2="714"/>
<line x1="575.5" x2="579" y1="566" y2="566"/><line x1="575.5" x2="579" y1="604" y2="604"/><line x1="575.5" x2="579" y1="642" y2="642"/><line x1="575.5" x2="579" y1="681" y2="681"/>
<line x1="594.5" x2="594.5" y1="714" y2="718"/><line x1="618.5" x2="618.5" y1="714" y2="718"/><line x1="643.5" x2="643.5" y1="714" y2="718"/><line x1="668" x2="668" y1="714" y2="718"/><line x1="692.5" x2="692.5" y1="714" y2="718"/><line x1="717.5" x2="717.5" y1="714" y2="718"/><line x1="742" x2="742" y1="714" y2="718"/><line x1="766" x2="766" y1="714" y2="718"/><line x1="791" x2="791" y1="714" y2="718"/><line x1="815" x2="815" y1="714" y2="718"/>
</g>
<g fill="none" stroke-width="1.4">
<g stroke="#e05a40"><rect x="585" y="649" width="19" height="26"/><line x1="585" x2="604" y1="661" y2="661"/><line x1="594.5" x2="594.5" y1="620" y2="649"/><line x1="594.5" x2="594.5" y1="675" y2="690"/></g>
<g stroke="#4cb5d6"><rect x="609" y="564" width="19" height="28"/><line x1="609" x2="628" y1="573" y2="573"/><line x1="618.5" x2="618.5" y1="562" y2="564"/><line x1="618.5" x2="618.5" y1="592" y2="598"/></g>
<g stroke="#139578"><rect x="634" y="625" width="19" height="9"/><line x1="634" x2="653" y1="631" y2="631"/><line x1="643.5" x2="643.5" y1="623" y2="625"/><line x1="643.5" x2="643.5" y1="634" y2="642"/></g>
<g stroke="#34508a"><rect x="659" y="621" width="18" height="15"/><line x1="659" x2="677" y1="625" y2="625"/><line x1="668" x2="668" y1="616" y2="621"/><line x1="668" x2="668" y1="636" y2="647"/></g>
<g stroke="#ef9e84"><rect x="683" y="595" width="19" height="62"/><line x1="683" x2="702" y1="633" y2="633"/><line x1="692.5" x2="692.5" y1="573" y2="595"/><line x1="692.5" x2="692.5" y1="657" y2="673"/></g>
<g stroke="#8490c1"><rect x="708" y="642" width="19" height="23"/><line x1="708" x2="727" y1="657" y2="657"/><line x1="717.5" x2="717.5" y1="620" y2="642"/><line x1="717.5" x2="717.5" y1="665" y2="681"/></g>
<g stroke="#88d4bb"><rect x="732" y="654" width="19" height="13"/><line x1="732" x2="751" y1="657" y2="657"/><line x1="742" x2="742" y1="637" y2="654"/><line x1="742" x2="742" y1="667" y2="677"/></g>
<g stroke="#c8102e"><rect x="756" y="685" width="19" height="16"/><line x1="756" x2="775" y1="693" y2="693"/><line x1="766" x2="766" y1="678" y2="685"/><line x1="766" x2="766" y1="701" y2="707"/></g>
<g stroke="#6e5233"><line x1="782" x2="800" y1="625" y2="625" stroke-width="3"/></g>
<g stroke="#b8a88c"><rect x="806" y="653" width="18" height="9"/><line x1="806" x2="824" y1="657" y2="657"/><line x1="815" x2="815" y1="650" y2="653"/><line x1="815" x2="815" y1="662" y2="667"/></g>
</g>
<g>
<g fill="#e05a40"><circle cx="594" cy="607" r="2.6"/><circle cx="590" cy="620" r="2.6"/><circle cx="594" cy="622" r="2.6"/><circle cx="588" cy="647" r="2.6"/><circle cx="590" cy="650" r="2.6"/><circle cx="600" cy="657" r="2.6"/><circle cx="598" cy="661" r="2.6"/><circle cx="587" cy="663" r="2.6"/><circle cx="592" cy="664" r="2.6"/><circle cx="598" cy="673" r="2.6"/><circle cx="597" cy="685" r="2.6"/><circle cx="590" cy="690" r="2.6"/></g>
<g fill="#4cb5d6"><circle cx="612" cy="563" r="2.6"/><circle cx="617" cy="563" r="2.6"/><circle cx="622" cy="562" r="2.6"/><circle cx="611" cy="566" r="2.6"/><circle cx="622" cy="576" r="2.6"/><circle cx="618" cy="585" r="2.6"/><circle cx="614" cy="598" r="2.6"/><circle cx="625" cy="653" r="2.6"/></g>
<g fill="#139578"><circle cx="640" cy="604" r="2.6"/><circle cx="645" cy="601" r="2.6"/><circle cx="640" cy="623" r="2.6"/><circle cx="647" cy="626" r="2.6"/><circle cx="637" cy="629" r="2.6"/><circle cx="648" cy="632" r="2.6"/><circle cx="642" cy="634" r="2.6"/><circle cx="646" cy="641" r="2.6"/><circle cx="641" cy="668" r="2.6"/></g>
<g fill="#34508a"><circle cx="663" cy="617" r="2.6"/><circle cx="670" cy="625" r="2.6"/><circle cx="671" cy="646" r="2.6"/></g>
<g fill="#ef9e84"><circle cx="688" cy="573" r="2.6"/><circle cx="695" cy="573" r="2.6"/><circle cx="693" cy="587" r="2.6"/><circle cx="697" cy="620" r="2.6"/><circle cx="695" cy="623" r="2.6"/><circle cx="693" cy="653" r="2.6"/><circle cx="690" cy="658" r="2.6"/><circle cx="692" cy="668" r="2.6"/><circle cx="689" cy="672" r="2.6"/></g>
<g fill="#8490c1"><circle cx="717" cy="620" r="2.6"/><circle cx="716" cy="636" r="2.6"/><circle cx="716" cy="640" r="2.6"/><circle cx="713" cy="658" r="2.6"/><circle cx="718" cy="662" r="2.6"/><circle cx="713" cy="667" r="2.6"/><circle cx="715" cy="676" r="2.6"/><circle cx="715" cy="681" r="2.6"/></g>
<g fill="#88d4bb"><circle cx="738" cy="632" r="2.6"/><circle cx="741" cy="638" r="2.6"/><circle cx="747" cy="653" r="2.6"/><circle cx="737" cy="662" r="2.6"/><circle cx="746" cy="663" r="2.6"/><circle cx="745" cy="667" r="2.6"/><circle cx="737" cy="673" r="2.6"/><circle cx="737" cy="677" r="2.6"/></g>
<g fill="#c8102e"><circle cx="769" cy="678" r="2.6"/><circle cx="765" cy="707" r="2.6"/></g>
<g fill="#b8a88c"><circle cx="818" cy="650" r="2.6"/><circle cx="814" cy="667" r="2.6"/></g>
</g>
<g font-size="11" text-anchor="end">
<text transform="translate(598.5 721) rotate(-90)" fill="#e05a40">BE</text>
<text transform="translate(622.5 721) rotate(-90)" fill="#4cb5d6">BMP</text>
<text transform="translate(647.5 721) rotate(-90)" fill="#139578">AE</text>
<text transform="translate(672 721) rotate(-90)" fill="#34508a">HAT2</text>
<text transform="translate(696.5 721) rotate(-90)" fill="#ef9e84">ASI</text>
<text transform="translate(721.5 721) rotate(-90)" fill="#8490c1">PF</text>
<text transform="translate(746 721) rotate(-90)" fill="#88d4bb">VE</text>
<text transform="translate(770 721) rotate(-90)" fill="#c8102e">N−BE</text>
<text transform="translate(795 721) rotate(-90)" fill="#6e5233">N−AE</text>
<text transform="translate(819 721) rotate(-90)" fill="#b8a88c">N−VE</text>
</g>

<!-- ============ PANEL E ============ -->
<text x="7" y="842" class="pl">E</text>
<text x="50" y="851" font-size="16.5" fill="#111">COVID-19</text>
<text x="305" y="851" font-size="16"><tspan fill="#1a9a50">MPO (green) </tspan><tspan fill="#d7263d">Cit-H3 (red) </tspan><tspan fill="#2e3192">DAPI (blue)</tspan></text>
<text x="830" y="851" font-size="16.5" fill="#111" text-anchor="end">Non-COVID-19</text>
<g stroke="#111" stroke-width="1.6"><line x1="41" y1="859" x2="437" y2="859"/><line x1="442" y1="859" x2="835" y2="859"/></g>

<rect x="41" y="865" width="132" height="97" fill="#eedadf"/>
<rect x="41" y="865" width="132" height="97" filter="url(#tex)"/>
<path d="M41 928 C60 938 82 950 104 938 S140 905 173 884" stroke="#f8f1f3" stroke-width="9" fill="none" opacity="0.85"/>
<path d="M60 960 C80 945 120 950 173 930" stroke="#f8f1f3" stroke-width="4" fill="none" opacity="0.6"/>
<rect x="78" y="941" width="22" height="15" fill="none" stroke="#222" stroke-width="1.2"/>
<rect x="43" y="958" width="8" height="2" fill="#222"/>
<rect x="41" y="865" width="132" height="97" fill="none" stroke="#999" stroke-width="1"/>
<rect x="41" y="965" width="132" height="95" fill="#0f0f48"/>
<rect x="41" y="965" width="132" height="95" filter="url(#spk)" opacity="0.4"/>
<path d="M60 990 Q90 1000 120 985 M130 1010 Q150 1030 170 1020" stroke="#050520" stroke-width="6" fill="none" opacity="0.6"/>
<rect x="85" y="1043" width="21" height="15" fill="none" stroke="#fff" stroke-width="1.2"/>
<line x1="106" y1="1043" x2="173" y2="866" stroke="#fff" stroke-width="1"/>
<line x1="106" y1="1058" x2="177" y2="1060" stroke="#fff" stroke-width="1"/>
<rect x="43" y="1055" width="8" height="2" fill="#fff"/>
<rect x="41" y="965" width="132" height="95" fill="none" stroke="#999" stroke-width="1"/>
<rect x="177" y="865" width="260" height="195" fill="#03030f"/>
<g clip-path="url(#c1)">
<circle class="cb" cx="190" cy="875" r="6"/><circle class="cm" cx="205" cy="872" r="5"/><circle class="cb" cx="222" cy="874" r="6"/><circle class="cw" cx="240" cy="871" r="4.5"/><circle class="cb" cx="262" cy="873" r="6"/><circle class="cm" cx="280" cy="870" r="5"/><circle class="cb" cx="300" cy="876" r="6"/><circle class="cb" cx="318" cy="872" r="5"/><circle class="cb" cx="340" cy="874" r="6"/><circle class="cm" cx="358" cy="871" r="5"/><circle class="cb" cx="380" cy="875" r="6"/><circle class="cb" cx="398" cy="872" r="6"/><circle class="cm" cx="420" cy="876" r="5"/>
<circle class="cm" cx="183" cy="892" r="5"/><circle class="cb" cx="198" cy="888" r="6"/><circle class="cb" cx="214" cy="893" r="6"/><circle class="cm" cx="232" cy="889" r="5"/><circle class="cb" cx="250" cy="892" r="6"/><circle class="cb" cx="268" cy="888" r="6"/><circle class="cm" cx="288" cy="893" r="5"/><circle class="cb" cx="306" cy="889" r="6"/><circle class="cb" cx="325" cy="894" r="6"/><circle class="cw" cx="345" cy="888" r="4.5"/><circle class="cb" cx="365" cy="892" r="6"/><circle class="cm" cx="385" cy="889" r="5"/><circle class="cb" cx="404" cy="894" r="6"/><circle class="cb" cx="428" cy="890" r="6"/>
<circle class="cb" cx="186" cy="910" r="6"/><circle class="cw" cx="204" cy="907" r="4.5"/><circle class="cm" cx="220" cy="911" r="5"/><circle class="cb" cx="238" cy="906" r="6"/><circle class="cb" cx="256" cy="910" r="6"/><circle class="cm" cx="275" cy="907" r="5"/><circle class="cb" cx="293" cy="912" r="6"/><circle class="cb" cx="312" cy="906" r="6"/><circle class="cm" cx="330" cy="910" r="5"/><circle class="cb" cx="350" cy="907" r="6"/><circle class="cb" cx="368" cy="912" r="6"/><circle class="cb" cx="388" cy="906" r="5"/><circle class="cm" cx="408" cy="910" r="5"/><circle class="cb" cx="430" cy="907" r="6"/>
<circle class="cm" cx="181" cy="928" r="5"/><circle class="cb" cx="196" cy="925" r="6"/><circle class="cb" cx="214" cy="930" r="6"/><circle class="cm" cx="233" cy="924" r="5"/><circle class="cb" cx="250" cy="928" r="6"/><circle class="cw" cx="268" cy="925" r="4.5"/><circle class="cb" cx="286" cy="930" r="6"/><circle class="cm" cx="304" cy="925" r="5"/><circle class="cb" cx="322" cy="929" r="6"/><circle class="cb" cx="342" cy="924" r="6"/><circle class="cm" cx="360" cy="930" r="5"/><circle class="cb" cx="379" cy="925" r="6"/><circle class="cb" cx="398" cy="929" r="6"/><circle class="cm" cx="418" cy="925" r="5"/>
<circle class="cb" cx="188" cy="946" r="6"/><circle class="cm" cx="206" cy="942" r="5"/><circle class="cb" cx="224" cy="947" r="6"/><circle class="cb" cx="242" cy="943" r="6"/><circle class="cm" cx="262" cy="946" r="5"/><circle class="cb" cx="280" cy="942" r="6"/><circle class="cb" cx="298" cy="947" r="6"/><circle class="cw" cx="316" cy="943" r="4.5"/><circle class="cm" cx="335" cy="947" r="5"/><circle class="cb" cx="353" cy="942" r="6"/><circle class="cb" cx="372" cy="946" r="6"/><circle class="cm" cx="392" cy="943" r="5"/><circle class="cb" cx="412" cy="947" r="6"/><circle class="cw" cx="432" cy="944" r="4.5"/>
<circle class="cw" cx="184" cy="964" r="4.5"/><circle class="cb" cx="202" cy="960" r="6"/><circle class="cm" cx="219" cy="965" r="5"/><circle class="cb" cx="237" cy="960" r="6"/><circle class="cb" cx="256" cy="964" r="6"/><circle class="cm" cx="274" cy="960" r="5"/><circle class="cb" cx="293" cy="965" r="6"/><circle class="cb" cx="311" cy="961" r="6"/><circle class="cm" cx="330" cy="964" r="5"/><circle class="cb" cx="348" cy="960" r="6"/><circle class="cb" cx="367" cy="965" r="5"/><circle class="cb" cx="386" cy="961" r="6"/><circle class="cm" cx="405" cy="964" r="5"/><circle class="cb" cx="425" cy="960" r="6"/>
<circle class="cm" cx="189" cy="982" r="5"/><circle class="cb" cx="207" cy="978" r="6"/><circle class="cb" cx="225" cy="983" r="6"/><circle class="cw" cx="244" cy="979" r="4.5"/><circle class="cb" cx="262" cy="983" r="6"/><circle class="cm" cx="281" cy="978" r="5"/><circle class="cb" cx="299" cy="982" r="6"/><circle class="cb" cx="318" cy="979" r="6"/><circle class="cm" cx="336" cy="983" r="5"/><circle class="cb" cx="355" cy="978" r="6"/><circle class="cb" cx="374" cy="982" r="6"/><circle class="cm" cx="393" cy="979" r="5"/><circle class="cb" cx="413" cy="983" r="6"/><circle class="cb" cx="432" cy="978" r="6"/>
<circle class="cb" cx="183" cy="1000" r="6"/><circle class="cm" cx="200" cy="996" r="5"/><circle class="cb" cx="218" cy="1001" r="6"/><circle class="cb" cx="236" cy="997" r="6"/><circle class="cm" cx="254" cy="1000" r="5"/><circle class="cw" cx="272" cy="996" r="4.5"/><circle class="cb" cx="290" cy="1001" r="6"/><circle class="cm" cx="309" cy="997" r="5"/><circle class="cb" cx="327" cy="1001" r="6"/><circle class="cb" cx="346" cy="996" r="6"/><circle class="cm" cx="365" cy="1000" r="5"/><circle class="cb" cx="384" cy="997" r="6"/><circle class="cw" cx="403" cy="1001" r="4.5"/><circle class="cb" cx="422" cy="996" r="6"/>
<circle class="cm" cx="188" cy="1018" r="5"/><circle class="cb" cx="205" cy="1014" r="6"/><circle class="cw" cx="224" cy="1019" r="4.5"/><circle class="cb" cx="242" cy="1015" r="6"/><circle class="cm" cx="261" cy="1018" r="5"/><circle class="cb" cx="279" cy="1014" r="6"/><circle class="cb" cx="298" cy="1019" r="6"/><circle class="cm" cx="316" cy="1015" r="5"/><circle class="cb" cx="334" cy="1019" r="6"/><circle class="cw" cx="353" cy="1014" r="4.5"/><circle class="cb" cx="372" cy="1018" r="6"/><circle class="cm" cx="391" cy="1015" r="5"/><circle class="cb" cx="410" cy="1019" r="6"/><circle class="cm" cx="430" cy="1014" r="5"/>
<circle class="cm" cx="185" cy="1036" r="5"/><circle class="cm" cx="203" cy="1032" r="5"/><circle class="cb" cx="221" cy="1037" r="6"/><circle class="cw" cx="240" cy="1033" r="4.5"/><circle class="cb" cx="258" cy="1036" r="6"/><circle class="cb" cx="277" cy="1032" r="6"/><circle class="cm" cx="296" cy="1037" r="5"/><circle class="cb" cx="314" cy="1033" r="6"/><circle class="cb" cx="332" cy="1037" r="6"/><circle class="cm" cx="351" cy="1032" r="5"/><circle class="cb" cx="370" cy="1036" r="6"/><circle class="cw" cx="389" cy="1033" r="4.5"/><circle class="cb" cx="408" cy="1037" r="6"/><circle class="cb" cx="428" cy="1032" r="6"/>
<circle class="cb" cx="195" cy="1050" r="6"/><circle class="cm" cx="230" cy="1049" r="5"/><circle class="cb" cx="265" cy="1051" r="6"/><circle class="cb" cx="300" cy="1049" r="6"/><circle class="cm" cx="335" cy="1050" r="5"/><circle class="cb" cx="370" cy="1051" r="6"/><circle class="cm" cx="405" cy="1049" r="5"/>
</g>
<rect x="179" y="1054" width="123" height="2.5" fill="#fff"/>
<rect x="441" y="865" width="131" height="97" fill="#fdfbfb"/>
<g fill="none" stroke="#c9939e" stroke-width="1.4">
<path d="M443 880 Q460 900 450 930 T446 960"/><path d="M445 870 Q470 868 500 882"/><path d="M454 890 Q470 910 460 940"/>
<path d="M562 868 Q545 900 560 930 T570 958"/><path d="M548 880 Q540 900 552 920"/><path d="M500 960 Q520 940 540 945 T572 935"/><path d="M520 955 Q535 935 560 945"/>
</g>
<path d="M512 937 L526 926" stroke="#333" stroke-width="1.5" fill="none"/>
<rect x="466" y="868" width="21" height="15" fill="none" stroke="#222" stroke-width="1.2"/>
<rect x="443" y="958" width="8" height="2" fill="#222"/>
<rect x="441" y="865" width="131" height="97" fill="none" stroke="#999" stroke-width="1"/>
<rect x="441" y="965" width="131" height="95" fill="#000"/>
<g clip-path="url(#c3)" fill="none" stroke="#2a2ad8">
<path d="M445 972 Q500 966 570 976" stroke-width="4"/><path d="M500 975 L560 973" stroke-width="6" stroke="#2b2bf0"/>
<path d="M446 992 Q462 1020 450 1058" stroke-width="3"/><path d="M455 1000 Q470 1030 462 1058" stroke-width="2"/>
<ellipse cx="537" cy="1042" rx="22" ry="16" stroke-width="3"/><path d="M480 1000 Q500 1010 490 1030" stroke-width="2"/>
</g>
<rect x="474" y="972" width="21" height="15" fill="none" stroke="#fff" stroke-width="1.2"/>
<line x1="495" y1="987" x2="576" y2="1060" stroke="#fff" stroke-width="1"/>
<line x1="494" y1="973" x2="503" y2="963" stroke="#fff" stroke-width="1"/>
<rect x="443" y="1055" width="8" height="2" fill="#fff"/>
<rect x="441" y="965" width="131" height="95" fill="none" stroke="#999" stroke-width="1"/>
<rect x="576" y="865" width="259" height="195" fill="#000"/>
<g clip-path="url(#c2)">
<g fill="none" stroke="#2a2af0" stroke-linecap="round" filter="url(#bl)">
<path d="M657 868 C680 880 713 878 747 875 S813 885 840 887" stroke-width="12"/>
<path d="M677 913 C693 905 713 897 747 897 S813 927 840 950" stroke-width="17"/>
<path d="M617 1066 C622 1030 640 1012 663 1010 S730 990 763 970 S815 948 840 943" stroke-width="18"/>
<path d="M680 925 Q700 935 720 925" stroke-width="7"/>
<path d="M790 955 Q810 975 835 985" stroke-width="12"/>
</g>
<ellipse cx="763" cy="967" rx="40" ry="22" fill="#2828e6" filter="url(#bl)"/>
<circle cx="607" cy="963" r="8" fill="#2020cc" filter="url(#bl)"/>
<circle cx="692" cy="922" r="3.5" fill="#3c3"/>
<circle cx="696" cy="1009" r="3.5" fill="#3c3"/>
</g>
<rect x="578" y="1054" width="125" height="2.5" fill="#fff"/>
</svg>
</body></html>
